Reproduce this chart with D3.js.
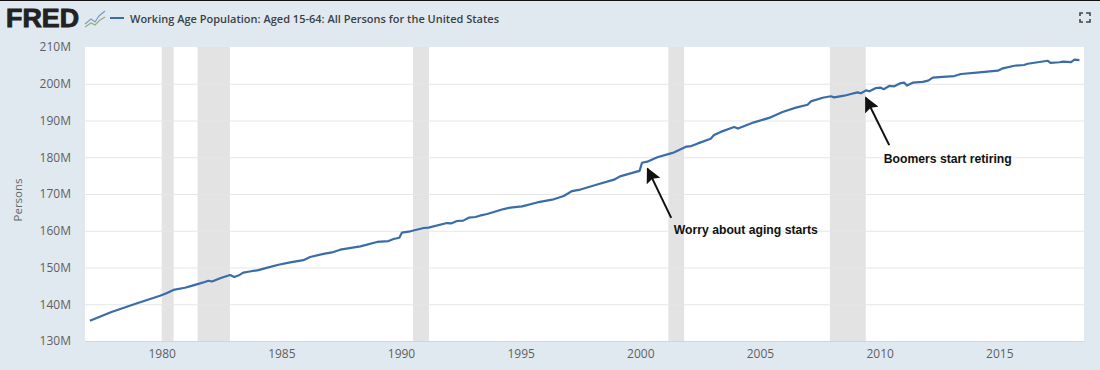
<!DOCTYPE html>
<html>
<head>
<meta charset="utf-8">
<script src="https://cdn.jsdelivr.net/npm/d3@7"></script>
<style>
  html, body { margin: 0; padding: 0; background: #e1e9f0; }
  svg { display: block; }
  text { font-family: "Open Sans", sans-serif; }
</style>
</head>
<body>
<svg></svg>
<script>
const seriesName = "Working Age Population: Aged 15-64: All Persons for the United States";
const yTitle = "Persons";
const xTickYears = [1980, 1985, 1990, 1995, 2000, 2005, 2010, 2015];
const yTickValues = [130, 140, 150, 160, 170, 180, 190, 200, 210];

// dates as decimal years, values in millions
const years = [1977.0, 1977.9, 1978.88, 1979.93, 1980.2, 1980.49, 1980.97, 1981.25, 1981.46, 1981.8, 1981.95, 1982.1, 1982.5, 1982.86, 1983.03, 1983.2, 1983.41, 1983.62, 1984.04, 1984.46, 1984.88,
  1985.37, 1985.92, 1986.2, 1986.76, 1987.11, 1987.46, 1988.3, 1989.0, 1989.48, 1989.69, 1989.93, 1990.04, 1990.39, 1990.95, 1991.15, 1991.92, 1992.09, 1992.34, 1992.6, 1992.83, 1993.11, 1993.29,
  1993.6, 1994.29, 1994.57, 1995.06, 1995.69, 1996.32, 1996.8, 1997.15, 1997.43, 1998.2, 1998.9, 1999.15, 1999.59, 1999.97, 2000.07, 2000.29, 2000.71, 2001.24,
  2001.4, 2001.93, 2002.13, 2002.38, 2002.94, 2003.08, 2003.36, 2003.92, 2004.08, 2004.75, 2005.38, 2005.94, 2006.5, 2006.99, 2007.13, 2007.62, 2007.96, 2008.1, 2008.52, 2008.8, 2009.08,
  2009.22, 2009.43, 2009.57, 2009.85, 2010.03, 2010.17, 2010.4, 2010.61, 2010.89, 2011.03, 2011.14, 2011.38, 2011.8, 2012.03, 2012.22, 2012.64, 2013.12, 2013.4, 2014.17, 2014.94, 2015.15, 2015.63, 2016.03, 2016.19, 2017.03, 2017.14, 2017.51, 2017.66, 2018.0, 2018.14, 2018.35];
const population = [135.5, 137.9, 140.07, 142.3, 143.0, 143.9, 144.5, 145.0, 145.4, 146.05, 146.4, 146.2, 147.2, 147.95, 147.4, 147.8, 148.6, 148.85, 149.3, 150.05, 150.75,
  151.4, 152.0, 152.85, 153.7, 154.1, 154.85, 155.75, 156.95, 157.2, 157.75, 158.1, 159.5, 159.85, 160.75, 160.85, 162.1, 162.0, 162.65, 162.75, 163.55, 163.75, 164.1,
  164.55, 165.9, 166.3, 166.65, 167.7, 168.45, 169.45, 170.8, 171.1, 172.6, 173.9, 174.8, 175.6, 176.3, 178.5, 178.8, 180.0, 181.0,
  181.3, 182.9, 183.05, 183.7, 185.05, 186.05, 186.9, 188.25, 187.8, 189.5, 190.7, 192.3, 193.5, 194.3, 195.2, 196.2, 196.6, 196.3, 196.75, 197.2, 197.65,
  197.4, 198.2, 197.95, 198.85, 198.95, 198.5, 199.4, 199.3, 200.2, 200.3, 199.5, 200.3, 200.5, 200.85, 201.65, 201.85, 202.1, 202.65, 203.1, 203.55, 204.2, 204.9, 205.1, 205.45, 206.25, 205.7, 205.85, 206.0, 205.9, 206.55, 206.45];

const recessionStart = [1980.0, 1981.5, 1990.5, 2001.17, 2007.92];
const recessionEnd = [1980.5, 1982.85, 1991.17, 2001.83, 2009.42];

const noteText = ["Worry about aging starts", "Boomers start retiring"];
const noteTextYear = [2001.4, 2010.17];
const noteTextValue = [160.2, 179.5];
const arrowTailYear = [2001.29, 2010.4];
const arrowTailValue = [163.5, 183.3];
const arrowTipYear = [2000.3, 2009.42];
const arrowTipValue = [176.9, 196.2];

const width = 1100, height = 370;
const marginTop = 47, marginRight = 16, marginBottom = 29, marginLeft = 85;

const svg = d3.select("svg")
    .attr("width", width)
    .attr("height", height)
    .attr("viewBox", [0, 0, width, height]);

const x = d3.scaleLinear([1976.795, 2018.54], [marginLeft, width - marginRight]);
const y = d3.scaleLinear([130, 210], [height - marginBottom, marginTop]);

svg.append("rect").attr("width", width).attr("height", height).attr("fill", "#e1e9f0");
svg.append("rect").attr("width", width).attr("height", 1).attr("fill", "#111");

// plot area
svg.append("rect")
    .attr("x", marginLeft).attr("y", marginTop)
    .attr("width", width - marginLeft - marginRight)
    .attr("height", height - marginTop - marginBottom)
    .attr("fill", "#fff");

// recession bands
svg.append("g").attr("fill", "#e3e3e3")
  .selectAll("rect")
  .data(d3.range(recessionStart.length))
  .join("rect")
    .attr("x", i => x(recessionStart[i]))
    .attr("y", marginTop)
    .attr("width", i => x(recessionEnd[i]) - x(recessionStart[i]))
    .attr("height", height - marginTop - marginBottom);

const yAxis = d3.axisLeft(y)
    .tickValues(yTickValues)
    .tickFormat(d => d + "M")
    .tickSize(0)
    .tickPadding(14);

svg.append("g")
    .attr("transform", `translate(${marginLeft},0)`)
    .call(yAxis)
    .call(g => g.select(".domain").remove())
    .call(g => g.selectAll(".tick line").clone()
        .attr("stroke", "#e6e6e6")
        .attr("x2", width - marginLeft - marginRight))
    .call(g => g.selectAll(".tick").filter(d => d === 130 || d === 210).select("line:last-of-type").remove())
    .call(g => g.selectAll("text").attr("fill", "#5f5f5f").attr("font-size", 12));

const xAxis = d3.axisBottom(x)
    .tickValues(xTickYears)
    .tickFormat(d3.format("d"))
    .tickSize(0)
    .tickPadding(8);

svg.append("g")
    .attr("transform", `translate(0,${height - marginBottom})`)
    .call(xAxis)
    .call(g => g.select(".domain").attr("stroke", "#ccd6eb"))
    .call(g => g.selectAll("text").attr("fill", "#5f5f5f").attr("font-size", 12));

svg.append("text")
    .attr("transform", `translate(22,${(marginTop + height - marginBottom) / 2 + 6}) rotate(-90)`)
    .attr("text-anchor", "middle")
    .attr("fill", "#666")
    .attr("font-size", 11.5)
    .text(yTitle);

const line = d3.line()
    .x(i => x(years[i]))
    .y(i => y(population[i]));

svg.append("path")
    .attr("d", line(d3.range(years.length)))
    .attr("fill", "none")
    .attr("stroke", "#3a6ca9")
    .attr("stroke-width", 2.2)
    .attr("stroke-linejoin", "round");

// annotations
svg.append("defs").append("marker")
    .attr("id", "arrow")
    .attr("viewBox", "0 0 12 12")
    .attr("refX", 11).attr("refY", 6)
    .attr("markerUnits", "userSpaceOnUse")
    .attr("markerWidth", 15).attr("markerHeight", 15)
    .attr("orient", "auto")
  .append("path")
    .attr("d", "M0,0L12,6L0,12L2,6Z")
    .attr("fill", "#111");

svg.append("g")
    .attr("stroke", "#111")
    .attr("stroke-width", 2)
  .selectAll("line")
  .data(d3.range(noteText.length))
  .join("line")
    .attr("x1", i => x(arrowTailYear[i]))
    .attr("y1", i => y(arrowTailValue[i]))
    .attr("x2", i => x(arrowTipYear[i]))
    .attr("y2", i => y(arrowTipValue[i]))
    .attr("marker-end", "url(#arrow)");

svg.append("g")
  .selectAll("text")
  .data(noteText)
  .join("text")
    .attr("x", (d, i) => x(noteTextYear[i]))
    .attr("y", (d, i) => y(noteTextValue[i]))
    .attr("dy", "0.35em")
    .attr("fill", "#111")
    .attr("font-size", 12.2)
    .attr("font-weight", "bold")
    .style("font-family", "Liberation Sans, Arial, sans-serif")
    .text(d => d);

// header: logo, legend swatch, title, fullscreen icon
svg.append("text")
    .attr("x", 6).attr("y", 27)
    .attr("font-size", 26)
    .attr("font-weight", "bold")
    .attr("fill", "#222")
    .attr("stroke", "#222")
    .attr("stroke-width", 0.9)
    .attr("textLength", 73)
    .attr("lengthAdjust", "spacingAndGlyphs")
    .style("font-family", "Liberation Sans, Arial, sans-serif")
    .text("FRED");

const logo = svg.append("g").attr("fill", "none").attr("stroke-width", 1.2);
logo.append("path").attr("d", "M85,24L91,19L95,22L99,16L105,11").attr("stroke", "#7d9bbd");
logo.append("path").attr("d", "M85,27L91,23L95,25L100,20L105,17").attr("stroke", "#93ad84");

svg.append("line")
    .attr("x1", 110).attr("x2", 124).attr("y1", 18).attr("y2", 18)
    .attr("stroke", "#3a6ca9").attr("stroke-width", 2);

svg.append("text")
    .attr("x", 130).attr("y", 22.5)
    .attr("font-size", 11.4)
    .attr("font-weight", 600)
    .attr("fill", "#3a3f45")
    .attr("textLength", 369)
    .attr("lengthAdjust", "spacingAndGlyphs")
    .text(seriesName);

svg.append("path")
    .attr("d", "M1080,16V13H1083M1086,13H1090V16M1090,19V22H1086M1083,22H1080V19")
    .attr("fill", "none")
    .attr("stroke", "#444")
    .attr("stroke-width", 1.6);
</script>
</body>
</html>
